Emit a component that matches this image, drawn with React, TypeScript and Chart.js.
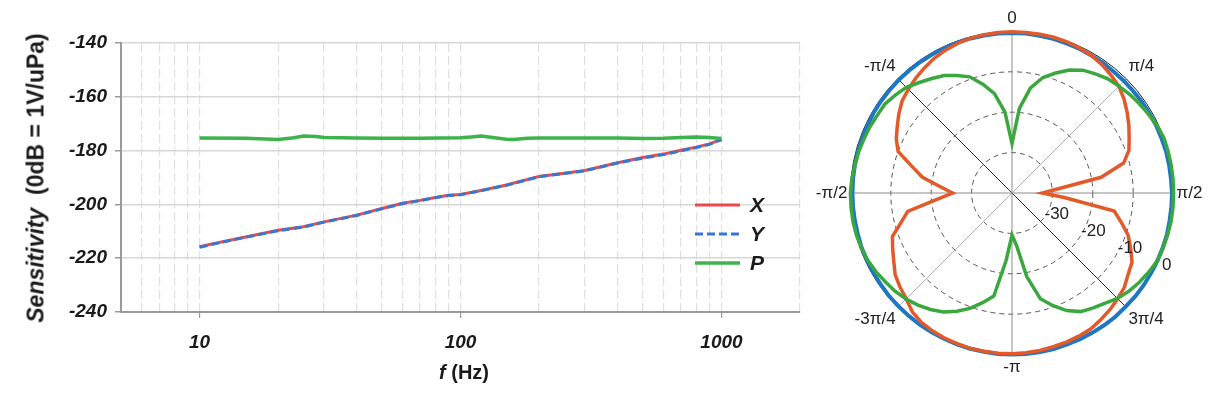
import React, { useEffect, useRef } from 'react';
import { Chart, registerables } from 'chart.js';

Chart.register(...registerables);

const FONT = "'Liberation Sans', Arial, Helvetica, sans-serif";

// ---------- Frequency response (left chart) ----------
const freqXY = [10, 12, 15, 20, 25, 30, 40, 50, 60, 70, 80, 90, 100, 120, 150, 200, 250, 300, 400, 500, 600, 700, 800, 900, 1000];
const sensX = [-215.7, -214.1, -212.1, -209.6, -208.3, -206.5, -204.0, -201.5, -199.6, -198.5, -197.4, -196.6, -196.3, -194.8, -192.8, -189.6, -188.4, -187.4, -184.5, -182.6, -181.3, -179.9, -178.7, -177.5, -175.8];
const sensY = [-215.9, -214.2, -212.2, -209.8, -208.4, -206.6, -204.1, -201.6, -199.7, -198.6, -197.5, -196.7, -196.4, -194.9, -192.9, -189.7, -188.5, -187.5, -184.6, -182.8, -181.5, -180.1, -178.9, -177.7, -175.9];
const freqP = [10, 15, 20, 23, 25, 28, 30, 40, 50, 70, 100, 110, 120, 135, 150, 160, 180, 200, 300, 400, 500, 600, 700, 800, 900, 1000];
const sensP = [-175.3, -175.4, -175.9, -175.2, -174.6, -174.8, -175.1, -175.3, -175.4, -175.4, -175.2, -174.9, -174.6, -175.2, -175.8, -175.9, -175.4, -175.3, -175.3, -175.3, -175.5, -175.4, -175.1, -174.9, -175.1, -175.5];
const xTickValues = [5, 6, 7, 8, 9, 10, 20, 30, 40, 50, 60, 70, 80, 90, 100, 200, 300, 400, 500, 600, 700, 800, 900, 1000, 2000];
const xTickLabels: Record<number, string> = { 10: '10', 100: '100', 1000: '1000' };
const yTickValues = [-240, -220, -200, -180, -160, -140];
const seriesNames = ['X', 'Y', 'P'];

// ---------- Directivity (polar chart) ----------
const polarAngles = [0, 5, 10, 15, 20, 25, 30, 35, 40, 45, 50, 55, 60, 65, 70, 75, 80, 85, 90, 95, 100, 105, 110, 115, 120, 125, 130, 135, 140, 145, 150, 155, 160, 165, 170, 175, 180, 185, 190, 195, 200, 205, 210, 215, 220, 225, 230, 235, 240, 245, 250, 255, 260, 265, 270, 275, 280, 285, 290, 295, 300, 305, 310, 315, 320, 325, 330, 335, 340, 345, 350, 355];
const polarAngleLabels = ['0', 'π/4', 'π/2', '3π/4', '-π', '-3π/4', '-π/2', '-π/4'];
const polarRadialTicks = [-40, -30, -20, -10, 0];
const polarBlue = [-0.4, -0.4, -0.5, -0.5, -0.6, -0.6, -0.7, -0.7, -0.8, -0.8, -0.8, -0.7, -0.7, -0.6, -0.6, -0.5, -0.5, -0.5, -0.4, -0.4, -0.4, -0.3, -0.3, -0.3, -0.3, -0.2, -0.2, -0.2, -0.1, -0.1, -0.1, -0.1, -0.1, 0, 0, 0, 0, 0, -0.1, -0.1, -0.1, -0.2, -0.2, -0.2, -0.3, -0.3, -0.3, -0.4, -0.4, -0.4, -0.4, -0.5, -0.5, -0.5, -0.5, -0.5, -0.5, -0.5, -0.5, -0.5, -0.4, -0.4, -0.4, -0.4, -0.4, -0.4, -0.4, -0.4, -0.4, -0.4, -0.4, -0.4];
const polarRed = [-0.1, -0.1, -0.1, -0.1, -0.2, -0.4, -0.7, -1.2, -1.9, -2.6, -3.8, -5.2, -6.6, -8, -9.2, -11.4, -17.6, -28.7, -32.5, -27, -14.3, -12, -9.4, -7.6, -5.7, -4.9, -3.7, -3, -2.3, -1.7, -1.1, -0.9, -0.7, -0.6, -0.4, -0.3, -0.2, -0.2, -0.2, -0.2, -0.3, -0.4, -0.6, -0.9, -1.6, -3, -3.8, -4.7, -6.2, -7.4, -8.5, -11.5, -13.8, -21.2, -25.3, -22.2, -17.5, -14.3, -10, -8.4, -7.2, -5.8, -4.5, -3.7, -2.9, -2.2, -1.5, -1, -0.6, -0.3, -0.2, -0.1];
const polarGreen = [-27.7, -19, -13.6, -10.4, -8.4, -6.4, -4.9, -4, -3.1, -2.6, -2, -1.5, -1, -0.4, 0, 0, 0, 0, 0, 0, 0, -0.1, -0.2, -0.3, -0.9, -1.5, -2.2, -3.1, -4.3, -5.2, -6.1, -7.9, -10.3, -12.9, -19, -26.9, -29.6, -23.2, -14.1, -11.9, -9.6, -7.7, -6, -4.8, -3.8, -2.9, -2.2, -1.7, -1.1, -0.6, -0.3, -0.1, 0, 0, 0, -0.2, -0.5, -0.7, -1, -1.2, -1.5, -1.6, -2.3, -3, -4.3, -5.4, -6.4, -7.9, -9.4, -12.1, -15, -19.9];

const inlineLegend = {
  id: 'inlineLegend',
  afterDatasetsDraw(chart: any) {
    const { ctx, chartArea } = chart;
    const x0 = chartArea.right - 105;
    const x1 = chartArea.right - 60;
    const rows = [162, 191, 220];
    chart.data.datasets.forEach((ds: any, i: number) => {
      const y = chartArea.top + rows[i];
      ctx.save();
      ctx.strokeStyle = ds.borderColor;
      ctx.lineWidth = ds.borderWidth;
      ctx.setLineDash(ds.borderDash || []);
      ctx.beginPath();
      ctx.moveTo(x0, y);
      ctx.lineTo(x1, y);
      ctx.stroke();
      ctx.setLineDash([]);
      ctx.fillStyle = '#1a1a1a';
      ctx.font = `italic bold 21px ${FONT}`;
      ctx.textAlign = 'left';
      ctx.textBaseline = 'middle';
      ctx.fillText(ds.label, x1 + 10, y + 1);
      ctx.restore();
    });
  },
};

const radialTickLabels = {
  id: 'radialTickLabels',
  afterDraw(chart: any) {
    const r = chart.scales.r;
    const ctx = chart.ctx;
    ctx.save();
    ctx.font = `17px ${FONT}`;
    ctx.fillStyle = '#222';
    ctx.textAlign = 'center';
    ctx.textBaseline = 'middle';
    polarRadialTicks.slice(1).forEach((v) => {
      const d = r.getDistanceFromCenterForValue(v) + 9;
      const p = r.getPointPosition(23, d);
      ctx.fillText(String(v), p.x, p.y);
    });
    ctx.restore();
  },
};

function LineChart() {
  const ref = useRef<HTMLCanvasElement>(null);
  useEffect(() => {
    const tickFont = { family: FONT, size: 19, weight: 'bold' as const, style: 'italic' as const };
    const chart = new Chart(ref.current!, {
      type: 'line',
      data: {
        datasets: [
          {
            label: seriesNames[0],
            data: freqXY.map((f, i) => ({ x: f, y: sensX[i] })),
            borderColor: '#e94b4b',
            borderWidth: 3,
            pointRadius: 0,
            tension: 0,
            order: 2,
          },
          {
            label: seriesNames[1],
            data: freqXY.map((f, i) => ({ x: f, y: sensY[i] })),
            borderColor: '#3578d4',
            borderWidth: 3,
            borderDash: [8, 4],
            pointRadius: 0,
            tension: 0,
            order: 1,
          },
          {
            label: seriesNames[2],
            data: freqP.map((f, i) => ({ x: f, y: sensP[i] })),
            borderColor: '#3cb44b',
            borderWidth: 3.5,
            pointRadius: 0,
            tension: 0,
            order: 0,
          },
        ],
      },
      options: {
        animation: false,
        responsive: false,
        events: [],
        layout: { padding: { top: 43, right: 30, bottom: 0, left: 0 } },
        plugins: { legend: { display: false }, tooltip: { enabled: false } },
        scales: {
          x: {
            type: 'logarithmic',
            min: xTickValues[0],
            max: xTickValues[xTickValues.length - 1],
            afterBuildTicks: (s: any) => {
              s.ticks = xTickValues.map((v) => ({ value: v }));
            },
            afterFit: (s: any) => {
              s.height = 86;
            },
            ticks: {
              autoSkip: false,
              maxRotation: 0,
              padding: 13,
              font: tickFont,
              color: '#1a1a1a',
              callback: (v: any) => xTickLabels[Number(v)] ?? '',
            },
            grid: {
              color: '#e0e0e0',
              lineWidth: 1.2,
              tickLength: 6,
              tickColor: (c: any) => (c.tick && xTickLabels[c.tick.value] ? '#9a9a9a' : 'rgba(0,0,0,0)'),
            },
            border: { display: true, color: '#9a9a9a', width: 2, dash: [9, 4] },
          },
          y: {
            type: 'linear',
            min: yTickValues[0],
            max: yTickValues[yTickValues.length - 1],
            afterFit: (s: any) => {
              s.width = 121;
            },
            ticks: {
              stepSize: yTickValues[1] - yTickValues[0],
              padding: 8,
              font: tickFont,
              color: '#1a1a1a',
            },
            grid: { color: '#d8d8d8', lineWidth: 1.5, tickLength: 6, tickColor: '#9a9a9a' },
            border: { display: true, color: '#9a9a9a', width: 2 },
          },
        },
      },
      plugins: [inlineLegend],
    } as any);
    return () => chart.destroy();
  }, []);
  return (
    <canvas
      ref={ref}
      width={830}
      height={398}
      style={{ position: 'absolute', left: 0, top: 0, width: 830, height: 398 }}
    />
  );
}

function PolarChart() {
  const ref = useRef<HTMLCanvasElement>(null);
  useEffect(() => {
    const chart = new Chart(ref.current!, {
      type: 'radar',
      data: {
        labels: polarAngles.map(String),
        datasets: [
          { label: 'P', data: polarGreen, borderColor: '#3aa83f', borderWidth: 3.5, pointRadius: 0, fill: false, tension: 0 },
          { label: 'X', data: polarRed, borderColor: '#e3592a', borderWidth: 3.5, pointRadius: 0, fill: false, tension: 0 },
          { label: 'omni', data: polarBlue, borderColor: '#1f77c4', borderWidth: 4, pointRadius: 0, fill: false, tension: 0 },
        ],
      },
      options: {
        animation: false,
        responsive: false,
        events: [],
        layout: { padding: 0 },
        plugins: { legend: { display: false }, tooltip: { enabled: false } },
        scales: {
          r: {
            min: polarRadialTicks[0],
            max: polarRadialTicks[polarRadialTicks.length - 1],
            ticks: { display: false, stepSize: polarRadialTicks[1] - polarRadialTicks[0] },
            grid: {
              circular: true,
              color: (c: any) => (c.index === polarRadialTicks.length - 1 ? '#222' : '#555'),
              lineWidth: 1,
            },
            border: { dash: (c: any) => (c.index === polarRadialTicks.length - 1 ? [] : [5, 4]) },
            angleLines: {
              display: true,
              color: (c: any) => {
                const k = c.index / 9;
                if (k === 3 || k === 7) return '#333';
                if (k === 1 || k === 5) return '#b0b0b0';
                return '#8c8c8c';
              },
              lineWidth: (c: any) => (c.index % 9 === 0 ? 1 : 0),
            },
            pointLabels: {
              display: true,
              padding: 3,
              color: '#222',
              font: { family: FONT, size: 17 },
              callback: (_l: any, i: number) => (i % 9 === 0 ? polarAngleLabels[i / 9] : ''),
            },
          },
        },
      },
      plugins: [radialTickLabels],
    } as any);
    return () => chart.destroy();
  }, []);
  return (
    <canvas
      ref={ref}
      width={460}
      height={370}
      style={{ position: 'absolute', left: 782, top: 8, width: 460, height: 370 }}
    />
  );
}

export default function App() {
  return (
    <div
      style={{
        position: 'fixed',
        left: 0,
        top: 0,
        width: 1228,
        height: 398,
        overflow: 'hidden',
        background: '#ffffff',
        fontFamily: FONT,
      }}
    >
      <LineChart />
      <PolarChart />
      <div
        style={{
          position: 'absolute',
          left: 36,
          top: 178,
          transform: 'translate(-50%, -50%) rotate(-90deg)',
          whiteSpace: 'pre',
          fontWeight: 'bold',
          fontSize: 23,
          color: '#1a1a1a',
          lineHeight: 1,
        }}
      >
        <i>Sensitivity</i>
        {'  (0dB = 1V/uPa)'}
      </div>
      <div
        style={{
          position: 'absolute',
          left: 464,
          top: 372,
          transform: 'translate(-50%, -50%)',
          whiteSpace: 'pre',
          fontWeight: 'bold',
          fontSize: 20,
          color: '#1a1a1a',
          lineHeight: 1,
        }}
      >
        <i>f</i>
        {' (Hz)'}
      </div>
    </div>
  );
}
